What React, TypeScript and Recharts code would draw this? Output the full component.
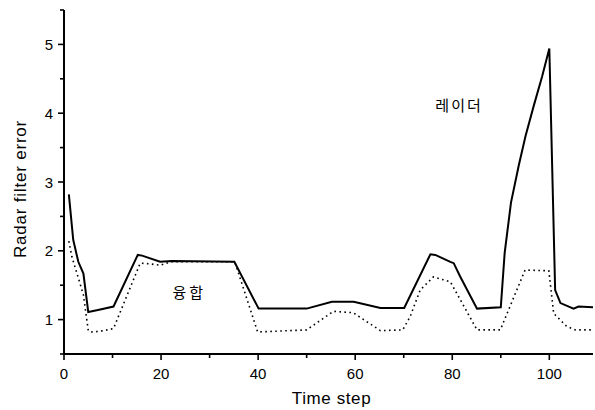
import React from 'react';
import { LineChart, Line, XAxis, YAxis, ReferenceDot } from 'recharts';

// Radar-only filter error (solid)
const radarSteps = [1, 1.9, 2.95, 4, 5, 7, 10.2, 15.2, 16.1, 19.8, 22.2, 35.1, 40.1, 50, 55.2, 59.7, 65.2, 70.1, 75.5, 76.5, 79.6, 80.3, 81.6, 85.1, 90, 90.8, 92.1, 93.7, 95.1, 96.8, 98.5, 100, 101.2, 102.3, 105, 106, 109];
const radarError = [2.82, 2.16, 1.84, 1.67, 1.11, 1.14, 1.19, 1.94, 1.93, 1.84, 1.85, 1.84, 1.16, 1.16, 1.26, 1.26, 1.17, 1.17, 1.95, 1.94, 1.84, 1.82, 1.63, 1.16, 1.18, 1.97, 2.70, 3.24, 3.67, 4.11, 4.53, 4.94, 1.43, 1.24, 1.16, 1.19, 1.18];

// Fusion filter error (dotted)
const fusionSteps = [1, 1.6, 4, 5, 5.5, 7.5, 10.2, 15.7, 17.7, 19.8, 22, 35.2, 39.9, 50, 55.5, 59.6, 65.2, 69.8, 71.3, 73.4, 76.1, 79.6, 85.1, 89.9, 95, 99.9, 100.9, 103.6, 105.4, 109];
const fusionError = [2.14, 1.92, 1.36, 0.84, 0.82, 0.83, 0.87, 1.82, 1.81, 1.79, 1.84, 1.84, 0.82, 0.85, 1.12, 1.10, 0.84, 0.85, 1.04, 1.43, 1.62, 1.55, 0.85, 0.85, 1.72, 1.71, 1.09, 0.90, 0.85, 0.85];

const xTicks = [0, 10, 20, 30, 40, 50, 60, 70, 80, 90, 100];
const yTicks = [0.5, 1, 1.5, 2, 2.5, 3, 3.5, 4, 4.5, 5, 5.5];

const radarData = radarSteps.map((x, i) => ({ x, y: radarError[i] }));
const fusionData = fusionSteps.map((x, i) => ({ x, y: fusionError[i] }));

const FONT = '"Liberation Sans", Arial, Helvetica, sans-serif';
const KFONT = '"Noto Sans CJK KR", sans-serif';

const isMajorX = (v: number) => v % 20 === 0;
const isMajorY = (v: number) => Number.isInteger(v);

const XTick = (props: any) => {
  const { x, y, payload } = props;
  const v = payload.value;
  const major = isMajorX(v);
  return (
    <g>
      <line x1={x} x2={x} y1={y} y2={y + (major ? 6 : 4)} stroke="#000" strokeWidth={1.6} />
      {major && (
        <text x={x} y={y + 25} textAnchor="middle" fontSize={15} fontFamily={FONT} fill="#000">
          {v}
        </text>
      )}
    </g>
  );
};

const YTick = (props: any) => {
  const { x, y, payload } = props;
  const v = payload.value;
  const major = isMajorY(v);
  return (
    <g>
      <line x1={x - (major ? 6 : 4)} x2={x} y1={y} y2={y} stroke="#000" strokeWidth={1.6} />
      {major && (
        <text x={x - 11} y={y + 5.5} textAnchor="end" fontSize={15} fontFamily={FONT} fill="#000">
          {v}
        </text>
      )}
    </g>
  );
};

const XTitle = (props: any) => {
  const vb = props.viewBox || {};
  const cx = vb.x + vb.width / 2 + 3;
  const by = vb.y + vb.height - 6;
  return (
    <text x={cx} y={by} textAnchor="middle" fontSize={17} letterSpacing={0.6} fontFamily={FONT} fill="#000">
      Time step
    </text>
  );
};

const YTitle = (props: any) => {
  const vb = props.viewBox || {};
  const cx = vb.x + 26;
  const cy = vb.y + vb.height / 2 + 7;
  return (
    <text
      x={cx}
      y={cy}
      transform={`rotate(-90, ${cx}, ${cy})`}
      textAnchor="middle"
      fontSize={17}
      letterSpacing={0.8}
      fontFamily={FONT}
      fill="#000"
    >
      Radar filter error
    </text>
  );
};

export default function App() {
  return (
    <div style={{ position: 'absolute', left: 0, top: 0, background: '#fff' }}>
      <LineChart width={595} height={410} margin={{ top: 10, right: 2, bottom: 0, left: 0 }}>
        <XAxis
          type="number"
          dataKey="x"
          domain={[0, 109]}
          ticks={xTicks}
          allowDataOverflow
          axisLine={{ stroke: '#000', strokeWidth: 2 }}
          tickLine={false}
          tickSize={0}
          tickMargin={0}
          tick={<XTick />}
          height={56}
          label={{ content: XTitle }}
        />
        <YAxis
          type="number"
          domain={[0.5, 5.5]}
          ticks={yTicks}
          allowDataOverflow
          axisLine={{ stroke: '#000', strokeWidth: 2 }}
          tickLine={false}
          tickSize={0}
          tickMargin={0}
          tick={<YTick />}
          width={64}
          label={{ content: YTitle }}
        />
        <Line data={fusionData} dataKey="y" type="linear" stroke="#000" strokeWidth={1.6} strokeDasharray="1.6 3.4" dot={false} isAnimationActive={false} />
        <Line data={radarData} dataKey="y" type="linear" stroke="#000" strokeWidth={2} dot={false} isAnimationActive={false} />
        <ReferenceDot x={81.4} y={4.11} r={0} stroke="none" fill="none" label={{ value: '레이더', position: 'center', fill: '#000', fontSize: 15, fontFamily: KFONT, letterSpacing: 2 }} />
        <ReferenceDot x={25.8} y={1.39} r={0} stroke="none" fill="none" label={{ value: '융합', position: 'center', fill: '#000', fontSize: 15, fontFamily: KFONT, letterSpacing: 3 }} />
      </LineChart>
    </div>
  );
}
